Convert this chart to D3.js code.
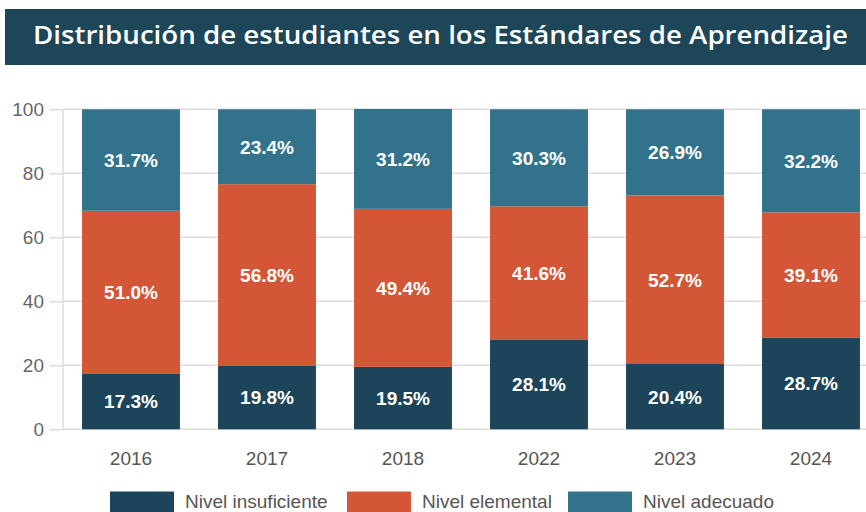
<!DOCTYPE html>
<html>
<head>
<meta charset="utf-8">
<script src="https://cdn.jsdelivr.net/npm/d3@7"></script>
<style>
  body { margin: 0; background: #fff; }
  svg { display: block; }
</style>
</head>
<body>
<div id="chart"></div>
<script>
// data
const years = ['2016', '2017', '2018', '2022', '2023', '2024'];
const insuficiente = [17.3, 19.8, 19.5, 28.1, 20.4, 28.7];
const elemental = [51.0, 56.8, 49.4, 41.6, 52.7, 39.1];
const adecuado = [31.7, 23.4, 31.2, 30.3, 26.9, 32.2];
const levels = ['Nivel insuficiente', 'Nivel elemental', 'Nivel adecuado'];
const yTicks = [0, 20, 40, 60, 80, 100];

const colors = ['#1c4559', '#d35637', '#32738b'];

let dim = { width: 866, height: 512 };

let svg = d3.select('#chart').append('svg')
    .attr('width', dim.width)
    .attr('height', dim.height);

// title banner
svg.append('rect')
    .attr('x', 5).attr('y', 9)
    .attr('width', 861).attr('height', 56)
    .attr('fill', '#1d4659');
svg.append('text')
    .attr('x', 33).attr('y', 43.5)
    .attr('fill', '#fff')
    .attr('font-family', '"Open Sans", sans-serif')
    .attr('font-weight', 600)
    .attr('font-size', 26)
    .attr('textLength', 815)
    .attr('lengthAdjust', 'spacingAndGlyphs')
    .text('Distribución de estudiantes en los Estándares de Aprendizaje');

let table = years.map((yr, i) => ({
    year: yr,
    'Nivel insuficiente': insuficiente[i],
    'Nivel elemental': elemental[i],
    'Nivel adecuado': adecuado[i]
}));
let series = d3.stack().keys(levels)(table);

let x = d3.scaleBand()
    .domain(years)
    .range([63, 879])
    .paddingInner(0.28)
    .paddingOuter(0.14);

let y = d3.scaleLinear()
    .domain([0, 100])
    .range([429.3, 109.3]);

const font = '"Liberation Sans", Arial, Helvetica, sans-serif';

// grid + y axis
let yAxis = svg.append('g')
    .attr('transform', 'translate(63,0)')
    .call(d3.axisLeft(y).tickValues(yTicks).tickSize(13).tickPadding(6));
yAxis.select('.domain').remove();
yAxis.selectAll('.tick line').attr('stroke', '#dcdcdc').attr('stroke-width', 1.5);
yAxis.selectAll('.tick text')
    .attr('fill', '#666')
    .attr('font-family', font)
    .attr('font-size', 19);

svg.append('g')
    .selectAll('line')
    .data(yTicks)
    .join('line')
    .attr('x1', 63).attr('x2', 866)
    .attr('y1', d => y(d)).attr('y2', d => y(d))
    .attr('stroke', '#dcdcdc')
    .attr('stroke-width', 1.5);

svg.append('line')
    .attr('x1', 63).attr('x2', 63)
    .attr('y1', 109).attr('y2', 430)
    .attr('stroke', '#dcdcdc')
    .attr('stroke-width', 1.5);

// bars
let groups = svg.append('g')
    .selectAll('g')
    .data(series)
    .join('g')
    .attr('fill', (d, i) => colors[i]);

groups.selectAll('rect')
    .data(d => d)
    .join('rect')
    .attr('x', d => x(d.data.year))
    .attr('width', x.bandwidth())
    .attr('y', d => y(d[1]))
    .attr('height', d => y(d[0]) - y(d[1]));

groups.selectAll('text')
    .data(d => d.map(p => ({ p: p, key: d.key })))
    .join('text')
    .attr('x', d => x(d.p.data.year) + x.bandwidth() / 2)
    .attr('y', d => y((d.p[0] + d.p[1]) / 2))
    .attr('dy', '0.36em')
    .attr('text-anchor', 'middle')
    .attr('fill', '#fff')
    .attr('font-family', font)
    .attr('font-weight', 'bold')
    .attr('font-size', 19)
    .text(d => d.p.data[d.key].toFixed(1) + '%');

// x axis labels
let xAxis = svg.append('g')
    .attr('transform', 'translate(0,429.3)')
    .call(d3.axisBottom(x).tickSize(0).tickPadding(22));
xAxis.select('.domain').remove();
xAxis.selectAll('.tick text')
    .attr('fill', '#555')
    .attr('font-family', font)
    .attr('font-size', 19);

// legend
const legendX = [110, 347, 568];
let legend = svg.append('g')
    .selectAll('g')
    .data(levels)
    .join('g')
    .attr('transform', (d, i) => `translate(${legendX[i]},491.5)`);
legend.append('rect')
    .attr('width', 64).attr('height', 24)
    .attr('fill', (d, i) => colors[i]);
legend.append('text')
    .attr('x', 75).attr('y', 16.5)
    .attr('fill', '#555')
    .attr('font-family', font)
    .attr('font-size', 19)
    .text(d => d);
</script>
</body>
</html>
